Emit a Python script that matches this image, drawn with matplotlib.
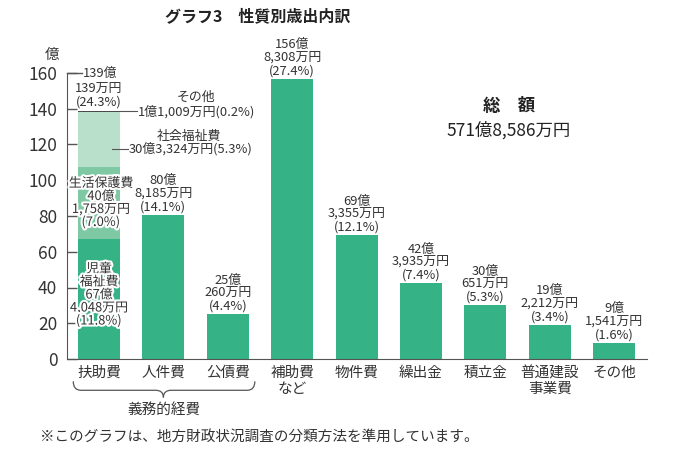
import matplotlib
matplotlib.use("Agg")
import matplotlib.pyplot as plt
import matplotlib.patheffects as pe
from matplotlib.path import Path
from matplotlib.patches import PathPatch

plt.rcParams['font.family'] = ['Noto Sans CJK JP', 'DejaVu Sans']

# ---- data ----
categories = ['扶助費', '人件費', '公債費', '補助費\nなど', '物件費', '繰出金', '積立金', '普通建設\n事業費', 'その他']
# single bars (categories[1:])
bar_oku = [80, 25, 156, 69, 42, 30, 19, 9]
bar_man = [8185, 260, 8308, 3355, 3935, 651, 2212, 1541]
bar_pct = [14.1, 4.4, 27.4, 12.1, 7.4, 5.3, 3.4, 1.6]
# stacked 扶助費 breakdown
fujo_parts = ['児童福祉費', '生活保護費', '社会福祉費', 'その他']
fujo_oku = [67, 40, 30, 1]
fujo_man = [4048, 1758, 3324, 1009]
fujo_pct = [11.8, 7.0, 5.3, 0.2]
fujo_total_oku, fujo_total_man, fujo_total_pct = 139, 139, 24.3
total_text = '571億8,586万円'
yticks = [0, 20, 40, 60, 80, 100, 120, 140, 160]

GREEN = '#36b287'
MID = '#7ec9a4'
LIGHT = '#b8e0cb'
DARK = '#4a4a4a'
TXT = '#333333'
AX = '#555555'

fig = plt.figure(figsize=(6.83, 4.53), dpi=100)
ax = fig.add_axes([67/683, (453-359)/453, (647-67)/683, (359-73)/453])
ax.set_xlim(-0.497, 8.51)
ax.set_ylim(0, 160)
W = 0.65

def yen(o, m):
    return o + m / 10000.0

# stacked bar
colors = [GREEN, MID, LIGHT, DARK]
bottom = 0
fujo_vals = [yen(o, m) for o, m in zip(fujo_oku, fujo_man)]
for v, c in zip(fujo_vals, colors):
    ax.bar(0, v, W, bottom=bottom, color=c, linewidth=0)
    bottom += v
fujo_top = bottom

# other bars
vals = [yen(o, m) for o, m in zip(bar_oku, bar_man)]
xs = list(range(1, len(categories)))
ax.bar(xs, vals, W, color=GREEN, linewidth=0)

fs = 9.3
LS = 1.0
for x, v, o, m, p in zip(xs, vals, bar_oku, bar_man, bar_pct):
    ax.annotate(f'{o}億\n{m:,}万円\n({p}%)', (x, v), xytext=(0, 1), textcoords='offset points',
                ha='center', va='bottom', fontsize=fs, color=TXT, linespacing=LS)

# stacked labels
halo = [pe.withStroke(linewidth=3, foreground='white')]
ax.text(0.03, 87.3, f'{fujo_parts[1]}\n{fujo_oku[1]}億\n{fujo_man[1]:,}万円\n({fujo_pct[1]}%)',
        ha='center', va='center', fontsize=fs, color=TXT, linespacing=LS, path_effects=halo)
ax.text(0.0, 35.8, f'児童\n福祉費\n{fujo_oku[0]}億\n{fujo_man[0]:,}万円\n({fujo_pct[0]}%)',
        ha='center', va='center', fontsize=fs, color=TXT, linespacing=LS, path_effects=halo)

# 社会福祉費 leader
y_s = 117.5
ax.plot([0.2, 0.45], [y_s, y_s], color=AX, lw=0.8)
ax.text(0.46, y_s, f'{fujo_oku[2]}億{fujo_man[2]:,}万円({fujo_pct[2]}%)', ha='left', va='center', fontsize=fs, color=TXT)
ax.text(1.40, 124.5, fujo_parts[2], ha='center', va='center', fontsize=fs, color=TXT)

# その他 leader
ax.plot([0.325, 0.59], [fujo_top - 0.5, fujo_top - 0.5], color=AX, lw=0.8)
ax.text(0.60, fujo_top - 0.5, f'{fujo_oku[3]}億{fujo_man[3]:,}万円({fujo_pct[3]}%)', ha='left', va='center', fontsize=fs, color=TXT)
ax.text(1.51, 146.5, fujo_parts[3], ha='center', va='center', fontsize=fs, color=TXT)

# total 扶助費 label
ax.plot([-0.497, -0.26], [160, 160], color=AX, lw=1, clip_on=False)
ax.text(-0.25, 160, f'{fujo_total_oku}億', ha='left', va='center', fontsize=fs, color=TXT)
ax.annotate(f'{fujo_total_man}万円\n({fujo_total_pct}%)', (0, fujo_top), xytext=(0, 1.5), textcoords='offset points',
            ha='center', va='bottom', fontsize=fs, color=TXT, linespacing=LS)

# axes styling
for s in ['top', 'right']:
    ax.spines[s].set_visible(False)
ax.spines['left'].set_color(AX)
ax.spines['bottom'].set_color(AX)
ax.set_yticks(yticks)
ax.set_yticklabels([str(t) for t in yticks])
ax.tick_params(axis='y', direction='in', length=7.5, width=1, color=AX, labelsize=12.5, pad=7, labelcolor=TXT)
ax.set_xticks(range(len(categories)))
ax.set_xticklabels(categories, fontsize=10.5, color=TXT, linespacing=1.15, va='top')
ax.tick_params(axis='x', length=0, pad=5)

# unit
fig.text(52/683, 1 - 55/453, '億', ha='center', va='center', fontsize=10.5, color=TXT)

# brace under 義務的経費
x0, x1, xc = -0.40, 2.42, 1.0
yt, ym, yb = -12.5, -17.5, -21.5
r = 0.12
verts = [(x0, yt), (x0, ym), (x0 + r, ym),
         (xc - r, ym), (xc, ym), (xc, yb),
         (xc, ym), (xc + r, ym),
         (x1 - r, ym), (x1, ym), (x1, yt)]
codes = [Path.MOVETO, Path.CURVE3, Path.CURVE3,
         Path.LINETO, Path.CURVE3, Path.CURVE3,
         Path.CURVE3, Path.CURVE3,
         Path.LINETO, Path.CURVE3, Path.CURVE3]
ax.add_patch(PathPatch(Path(verts, codes), fill=False, edgecolor=AX, lw=0.9, clip_on=False))
ax.text(xc, -28.5, '義務的経費', ha='center', va='center', fontsize=10.5, color=TXT)

# total
fig.text(509/683, 1 - 106/453, '総　額', ha='center', va='center', fontsize=12.5, color='#222222', fontweight='bold')
fig.text(509/683, 1 - 130/453, total_text, ha='center', va='center', fontsize=12.5, color='#222222')

# title
fig.text(258/683, 1 - 16/453, 'グラフ3　性質別歳出内訳', ha='center', va='center', fontsize=11.5, color='#222222', fontweight='bold')

# footnote
fig.text(40/683, 1 - 437/453, '※このグラフは、地方財政状況調査の分類方法を準用しています。', ha='left', va='center', fontsize=10.5, color=TXT)

fig.savefig('out.png', dpi=100)
